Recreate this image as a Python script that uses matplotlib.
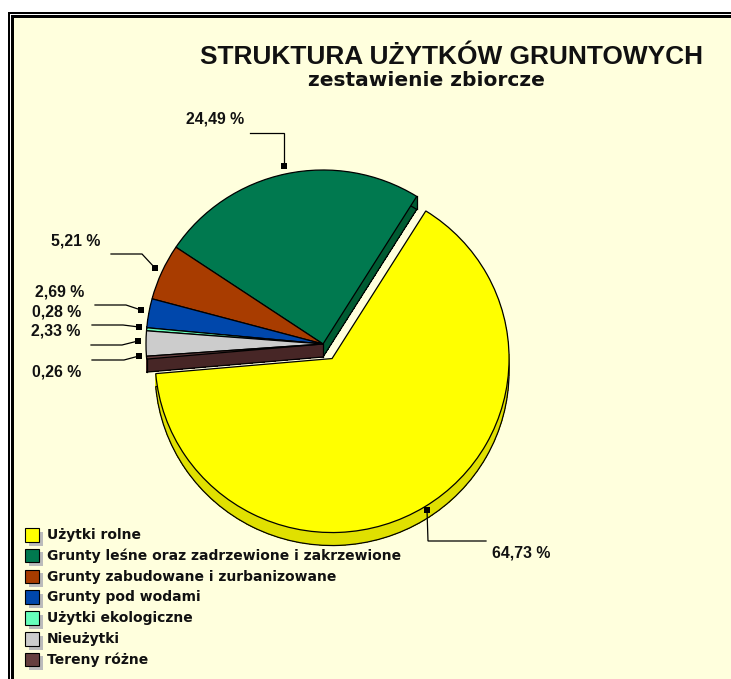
import numpy as np
import matplotlib

matplotlib.use("Agg")
import matplotlib.pyplot as plt
from matplotlib.patches import Rectangle

plt.rcParams["font.family"] = ["Liberation Sans", "DejaVu Sans"]

title = "STRUKTURA UŻYTKÓW GRUNTOWYCH"
subtitle = "zestawienie zbiorcze"
categories = ["Użytki rolne", "Grunty leśne oraz zadrzewione i zakrzewione",
              "Grunty zabudowane i zurbanizowane", "Grunty pod wodami",
              "Użytki ekologiczne", "Nieużytki", "Tereny różne"]
values = [64.73, 24.49, 5.21, 2.69, 0.28, 2.33, 0.26]
colours = ["#FFFF00", "#00794F", "#A83C00", "#0047AB", "#66FFBB", "#CCCCCC", "#663F3F"]
side_colours = ["#E0E000", "#005C33", "#7A2C00", "#003380", "#44BB88", "#999999", "#472626"]

# label box centre and leader path in image pixels, same order as values
label_xy = [(521, 553), (215, 119), (76, 241), (60, 292), (57, 312), (56, 331), (57, 372)]
leaders = [[(427, 510), (428, 541), (486, 541)],
           [(284, 166), (284, 133), (250, 133)],
           [(155, 268), (142, 254), (111, 254)],
           [(141, 310), (126, 305), (95, 305)],
           [(139, 327), (123, 325), (92, 325)],
           [(138, 341), (122, 345), (91, 345)],
           [(139, 356), (124, 360), (92, 360)]]

W, H = 731, 679
fig = plt.figure(figsize=(W / 100, H / 100), dpi=100, facecolor="white")
ax = fig.add_axes([0, 0, 1, 1])
ax.set_xlim(0, W)
ax.set_ylim(H, 0)
ax.axis("off")

# double frame, runs off the right and bottom of the picture
ax.add_patch(Rectangle((8, 12), 800, 800, fc="black", ec="none"))
ax.add_patch(Rectangle((10, 14), 800, 800, fc="white", ec="none"))
ax.add_patch(Rectangle((11, 15), 800, 800, fc="black", ec="none"))
ax.add_patch(Rectangle((14, 18), 800, 800, fc="#FFFFDD", ec="none"))

ax.text(451.5, 57, title, ha="center", va="center", fontsize=18.9, fontweight="bold", color="#111111")
ax.text(426, 81, subtitle, ha="center", va="center", fontsize=14.5, fontweight="bold",
        family="DejaVu Sans", color="#111111")

# pie lives in its own axes so it can be very slightly squashed
cx, cy, rx, ry = 323, 344, 177, 174
depth = 13
pie_ax = fig.add_axes([0, 0, 1, 1])
pie_ax.patch.set_visible(False)
explode = [0.098, 0, 0, 0, 0, 0, 0]
tip_deg = 58.0
start = tip_deg - values[0] * 3.6
clear = (0, 0, 0, 0)


def layer(offset, cols, edge=None):
    props = {"edgecolor": edge, "linewidth": 0.9} if edge else {"linewidth": 0, "antialiased": False}
    wedges, _ = pie_ax.pie(values, colors=cols, explode=explode, startangle=start, radius=1,
                           center=(0, -offset / ry), wedgeprops=props)
    return wedges


for k in range(depth, 0, -1):
    layer(k, side_colours)
# outline of the bottom of the walls, only for slices that show one
bottom = layer(depth, [clear] * 7, "black")
for i, w in enumerate(bottom):
    if i not in (0, 1):
        w.set_edgecolor(clear)
# the last slice's cut face sits in front of the thin slices' walls
for k in range(depth, 0, -1):
    layer(k, [clear] * 6 + [side_colours[-1]])
layer(0, colours, "black")

# vertical corner lines of the cut faces, and the bottom edge of the last slice
tip = np.deg2rad(tip_deg)
end = np.deg2rad(start)
for x0, y0 in [(np.cos(tip), np.sin(tip)), (0, 0), (np.cos(end), np.sin(end))]:
    pie_ax.plot([x0, x0], [y0, y0 - depth / ry], color="black", lw=0.9)
pie_ax.plot([0, np.cos(end)], [-depth / ry, np.sin(end) - depth / ry], color="black", lw=0.9)

pie_ax.set_xlim(-cx / rx, (W - cx) / rx)
pie_ax.set_ylim(-(H - cy) / ry, cy / ry)
pie_ax.set_aspect("auto")
pie_ax.axis("off")

# overlay for leaders and labels
top = fig.add_axes([0, 0, 1, 1])
top.set_xlim(0, W)
top.set_ylim(H, 0)
top.axis("off")
for v, (tx, ty), path in zip(values, label_xy, leaders):
    xs, ys = zip(*path)
    top.plot(xs, ys, color="black", lw=0.9, solid_joinstyle="miter")
    top.plot(xs[0], ys[0], "s", color="black", ms=4.2, mew=0)
    top.text(tx, ty, f"{v:.2f} %".replace(".", ","), ha="center", va="center",
             fontsize=11.4, fontweight="bold", color="#111111")

# legend with shadowed swatches
for i, (name, col) in enumerate(zip(categories, colours)):
    y = 528 + i * 20.8
    top.add_patch(Rectangle((29, y + 3.5), 14, 14, fc="#BBBBBB", ec="none"))
    top.add_patch(Rectangle((25, y), 13.5, 13.5, fc=col, ec="black", lw=0.8))
    top.text(47, y + 7, name, ha="left", va="center", fontsize=10, fontweight="bold",
             family="DejaVu Sans", color="#111111")

fig.savefig("out.png", dpi=100)
